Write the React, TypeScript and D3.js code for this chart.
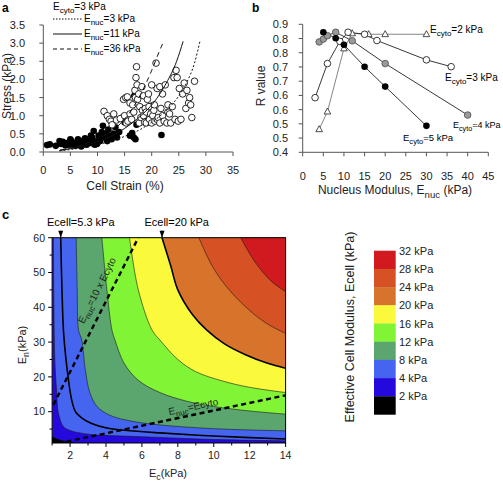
import React from 'react';
import * as d3 from 'd3';

const FONT = "'Liberation Sans', Arial, Helvetica, sans-serif";

// ---------------- Panel a data ----------------
const strainTicks = [0, 5, 10, 15, 20, 25, 30, 35];
const stressTicks = [0, 0.5, 1, 1.5, 2, 2.5, 3, 3.5];
const stressTickLabels = ['0.0', '0.5', '1.0', '1.5', '2.0', '2.5', '3.0', '3.5'];

const filledCells: [number, number][] = [
  [0.7, 0.19], [1.2, 0.21], [2.3, 0.17], [3.0, 0.3], [3.3, 0.22], [3.6, 0.28], [4.1, 0.18], [4.4, 0.25],
  [4.8, 0.2], [5.0, 0.35], [5.2, 0.3], [5.5, 0.22], [5.9, 0.17], [6.2, 0.26], [6.4, 0.35], [6.8, 0.2],
  [7.0, 0.15], [7.1, 0.3], [7.4, 0.24], [7.7, 0.38], [8.0, 0.2], [8.3, 0.3], [8.6, 0.25], [8.8, 0.45],
  [9.0, 0.4], [9.3, 0.58], [9.5, 0.2], [9.6, 0.3], [9.9, 0.22], [10.2, 0.45], [10.5, 0.3], [10.8, 0.55],
  [11.0, 0.72], [11.2, 0.4], [11.5, 0.5], [11.8, 0.3], [12.0, 0.62], [12.3, 0.45], [12.6, 0.35], [13.0, 0.5],
  [13.3, 0.68], [13.6, 0.4], [14.0, 0.55], [14.6, 0.95], [15.0, 0.82], [16.0, 0.45], [16.4, 0.52],
  [16.7, 0.4], [17.0, 0.35], [16.8, 1.55], [17.2, 0.75], [18.5, 0.9], [20.1, 1.28], [21.8, 0.47]
];

const openCells: [number, number][] = [
  [11.2, 1.12], [11.8, 1.0], [12.2, 0.9], [12.5, 0.85], [12.7, 0.75], [13.0, 1.05], [13.5, 0.88], [14.2, 0.92],
  [14.8, 1.45], [15.2, 1.5], [15.5, 1.52], [15.0, 1.0], [15.3, 0.8], [15.6, 0.85], [16.0, 1.05], [16.0, 1.35],
  [16.3, 0.9], [16.5, 1.3], [16.7, 1.1], [16.9, 1.7], [17.0, 1.5], [17.1, 2.05], [17.2, 2.35], [17.3, 1.85],
  [17.4, 1.45], [17.6, 1.6], [17.7, 0.8], [17.8, 1.25], [18.0, 0.95], [18.2, 1.8], [18.3, 1.15], [18.5, 1.0],
  [18.5, 1.55], [18.7, 0.82], [18.8, 1.2], [19.0, 1.1], [19.0, 0.8], [19.2, 1.45], [19.4, 1.6], [19.5, 1.25],
  [19.6, 0.9], [19.8, 1.05], [20.0, 1.85], [20.0, 0.8], [20.2, 1.0], [20.4, 1.15], [20.5, 1.3], [20.6, 0.85],
  [20.8, 2.45], [21.0, 1.75], [21.0, 0.9], [21.2, 0.95], [21.5, 1.8], [21.5, 0.8], [21.7, 1.2], [22.0, 1.0],
  [22.0, 1.6], [22.3, 0.85], [22.5, 1.85], [22.8, 0.8], [23.0, 1.1], [23.0, 1.3], [23.3, 1.05], [23.5, 0.8],
  [23.8, 1.25], [24.1, 2.05], [24.3, 0.9], [24.5, 2.25], [24.7, 2.05], [24.9, 0.85], [25.1, 1.75], [25.4, 0.9],
  [25.7, 1.6], [26.0, 1.9], [26.3, 1.2], [26.5, 1.7], [26.8, 1.35], [27.0, 1.5], [27.2, 1.3], [27.4, 0.95],
  [27.9, 1.95]
];

const modelEnuc3: [number, number][] = [
  [3, 0.03], [6, 0.09], [9, 0.17], [12, 0.28], [15, 0.43], [18, 0.63], [20, 0.82], [22, 1.05],
  [24, 1.35], [26.4, 1.9], [27.9, 2.45], [28.9, 3.05]
];
const modelEnuc11: [number, number][] = [
  [3, 0.04], [6, 0.12], [9, 0.24], [12, 0.4], [15, 0.65], [18, 1.0], [20.3, 1.35], [22.7, 1.9],
  [24.6, 2.5], [25.8, 3.05]
];
const modelEnuc36: [number, number][] = [
  [3, 0.05], [6, 0.15], [9, 0.3], [12, 0.52], [14, 0.75], [16, 1.1], [18, 1.6], [20, 2.25],
  [21.2, 2.7], [22.2, 3.05]
];

// ---------------- Panel b data ----------------
const enucTicks = [0, 5, 10, 15, 20, 25, 30, 35, 40, 45];
const rTicks = [0.45, 0.5, 0.55, 0.6, 0.65, 0.7, 0.75, 0.8, 0.85, 0.9];
const rTickLabels = ['0.4', '0.5', '0.5', '0.6', '0.6', '0.7', '0.7', '0.8', '0.8', '0.9'];

const cyto2: [number, number][] = [[4, 0.531], [6, 0.593], [10, 0.815], [12, 0.868], [16, 0.865], [20, 0.865], [30, 0.865]];
const cyto3: [number, number][] = [[3, 0.642], [6, 0.762], [9, 0.84], [11, 0.872], [15, 0.865], [18, 0.843], [30, 0.775], [36, 0.751]];
const cyto4: [number, number][] = [[4, 0.838], [5, 0.848], [6, 0.86], [8, 0.872], [12, 0.842], [20, 0.762], [40, 0.581]];
const cyto5: [number, number][] = [[5, 0.872], [8, 0.851], [10, 0.828], [15, 0.751], [20, 0.681], [30, 0.543]];

// ---------------- Panel c data ----------------
const ecTicks = [2, 4, 6, 8, 10, 12, 14];
const ecMinorTicks = [1, 3, 5, 7, 9, 11, 13];
const enTicks = [10, 20, 30, 40, 50, 60];
const enMinorTicks = [5, 15, 25, 35, 45, 55];

const contour2: [number, number][] = [[1, 2.8], [1.2, 2.3], [1.5, 1.8], [1.8, 1.4], [2.2, 1.0]];
const contour4: [number, number][] = [[1.07, 60], [1.1, 40], [1.15, 25], [1.25, 16], [1.35, 9.6], [1.63, 5.7], [2.0, 4.6], [2.55, 3.9], [3.5, 3.3], [4.95, 3.0], [7, 2.6], [10, 2.0], [14, 1.6]];
const contour5p3: [number, number][] = [[1.48, 60], [1.55, 45], [1.65, 32], [1.9, 19.6], [2.09, 13.4], [2.3, 10], [2.7, 8], [3.2, 6.6], [4.05, 5.3], [5.9, 4.3], [7, 3.9], [10, 3.0], [14, 2.15]];
const contour8: [number, number][] = [[2.34, 60], [2.4, 45], [2.47, 33.5], [2.65, 30.6], [2.85, 22], [3.1, 15.5], [3.5, 11.5], [4.2, 9], [5.5, 7.2], [7, 6.2], [9, 5.4], [11, 4.9], [14, 4.5]];
const contour12: [number, number][] = [[3.77, 60], [4.05, 45], [4.33, 33.5], [4.5, 30.6], [5.0, 24], [5.8, 19], [7, 15.5], [8.5, 13], [10, 11.5], [12, 10.2], [14, 9.3]];
const contour16: [number, number][] = [[5.31, 60], [5.8, 45], [6.56, 33.5], [7.0, 30.6], [8, 25], [9, 21.5], [10.5, 18.8], [12, 17], [14, 15.5]];
const contour20: [number, number][] = [[7.12, 60], [7.6, 52], [8.0, 45], [8.8, 38], [9.6, 33.5], [10.6, 29.5], [11.8, 26.3], [13, 23.9], [14, 22.5]];
const contour24: [number, number][] = [[9.17, 60], [9.9, 52], [10.7, 46], [11.8, 40], [12.9, 35.5], [14, 32.5]];
const contour28: [number, number][] = [[11.5, 60], [12.3, 53], [13.2, 47.5], [14, 44.5]];

const tenfoldLine: [number, number][] = [[1.07, 12.0], [5.8, 60]];
const equalLine: [number, number][] = [[1.8, 1.4], [14, 14.7]];

const legendLabels = ['32 kPa', '28 kPa', '24 kPa', '20 kPa', '16 kPa', '12 kPa', '8 kPa', '4 kPa', '2 kPa'];
const legendColors = ['#d11a1f', '#d65225', '#d8732b', '#fbf93c', '#80f435', '#5ba56e', '#4565f1', '#2408dc', '#000000'];

const C_DARKBLUE = '#2408dc';
const C_BLUE = '#4565f1';
const C_MINT = '#5ba56e';
const C_GREEN = '#80f435';
const C_YELLOW = '#fbf93c';
const C_ORANGE = '#d8732b';
const C_DORANGE = '#d65225';
const C_RED = '#d11a1f';

function SubText(props: {
  x: number; y: number; base: string; sub: string; rest: string; size: number;
  anchor?: string; transform?: string; fill?: string;
}) {
  const { x, y, base, sub, rest, size, anchor = 'start', transform, fill = '#000' } = props;
  const d = size * 0.3;
  return (
    <text x={x} y={y} fontSize={size} textAnchor={anchor} transform={transform} fill={fill}>
      {base}
      <tspan fontSize={size * 0.8} dy={d}>{sub}</tspan>
      <tspan dy={-d}>{rest}</tspan>
    </text>
  );
}

const AX = '#555';

function PanelA() {
  const xA = d3.scaleLinear().domain([0, 35]).range([43.3, 233]);
  const yA = d3.scaleLinear().domain([0, 3.5]).range([152, 25]);
  const line = d3.line<[number, number]>().x(d => xA(d[0])).y(d => yA(d[1])).curve(d3.curveMonotoneX);
  return (
    <g>
      <text x={2} y={12} fontSize={12} fontWeight="bold">a</text>
      <line x1={xA(0)} x2={xA(35)} y1={yA(0)} y2={yA(0)} stroke={AX} strokeWidth={1} />
      <line x1={xA(0)} x2={xA(0)} y1={yA(0)} y2={yA(3.5)} stroke={AX} strokeWidth={1} />
      {stressTicks.map((t, i) => (
        <g key={'ys' + i}>
          <line x1={xA(0) - 4} x2={xA(0)} y1={yA(t)} y2={yA(t)} stroke={AX} />
          <text x={25} y={yA(t) + 4} fontSize={11} textAnchor="end" fill="#222">{stressTickLabels[i]}</text>
        </g>
      ))}
      {strainTicks.map((t, i) => (
        <g key={'xs' + i}>
          <line x1={xA(t)} x2={xA(t)} y1={yA(0)} y2={yA(0) + 4} stroke={AX} />
          <text x={xA(t)} y={174} fontSize={11} textAnchor="middle" fill="#222">{t}</text>
        </g>
      ))}
      <text x={125} y={190} fontSize={12} textAnchor="middle" fill="#222">Cell Strain (%)</text>
      <text transform="translate(11,86) rotate(-90)" fontSize={12} textAnchor="middle" fill="#222">Stress (kPa)</text>
      {filledCells.map((d, i) => (
        <circle key={'f' + i} cx={xA(d[0])} cy={yA(d[1])} r={3.3} fill="#000" />
      ))}
      {openCells.map((d, i) => (
        <circle key={'o' + i} cx={xA(d[0])} cy={yA(d[1])} r={3.3} fill="#fff" stroke="#111" strokeWidth={0.9} />
      ))}
      <path d={line(modelEnuc3) || ''} fill="none" stroke="#111" strokeWidth={1} strokeDasharray="2,2" />
      <path d={line(modelEnuc11) || ''} fill="none" stroke="#111" strokeWidth={1} />
      <path d={line(modelEnuc36) || ''} fill="none" stroke="#111" strokeWidth={1} strokeDasharray="5,4" />
      <SubText x={53} y={10} base="E" sub="cyto" rest="=3 kPa" size={10} />
      <line x1={53} x2={82} y1={19} y2={19} stroke="#111" strokeDasharray="1.5,1.5" />
      <SubText x={84} y={22} base="E" sub="nuc" rest="=3 kPa" size={10} />
      <line x1={53} x2={82} y1={34} y2={34} stroke="#111" />
      <SubText x={84} y={37} base="E" sub="nuc" rest="=11 kPa" size={10} />
      <line x1={53} x2={82} y1={49} y2={49} stroke="#111" strokeDasharray="4,3" />
      <SubText x={84} y={52} base="E" sub="nuc" rest="=36 kPa" size={10} />
    </g>
  );
}

function PanelB() {
  const xB = d3.scaleLinear().domain([0, 45]).range([302.7, 488.3]);
  const yB = d3.scaleLinear().domain([0.45, 0.9]).range([152.3, 24.3]);
  const line = d3.line<[number, number]>().x(d => xB(d[0])).y(d => yB(d[1]));
  const tri = (x: number, y: number) => `M${x},${y - 3.6}L${x + 3.3},${y + 2.4}L${x - 3.3},${y + 2.4}Z`;
  return (
    <g>
      <text x={252} y={12} fontSize={12} fontWeight="bold">b</text>
      <line x1={xB(0)} x2={xB(45)} y1={yB(0.45)} y2={yB(0.45)} stroke={AX} />
      <line x1={xB(0)} x2={xB(0)} y1={yB(0.45)} y2={yB(0.9)} stroke={AX} />
      {rTicks.map((t, i) => (
        <g key={'yr' + i}>
          <line x1={xB(0) - 4} x2={xB(0)} y1={yB(t)} y2={yB(t)} stroke={AX} />
          <text x={288} y={yB(t) + 4} fontSize={11} textAnchor="end" fill="#222">{rTickLabels[i]}</text>
        </g>
      ))}
      {enucTicks.map((t, i) => (
        <g key={'xr' + i}>
          <line x1={xB(t)} x2={xB(t)} y1={yB(0.45)} y2={yB(0.45) + 4} stroke={AX} />
          <text x={xB(t)} y={180} fontSize={11} textAnchor="middle" fill="#222">{t}</text>
        </g>
      ))}
      <SubText x={395} y={194} base="Nucleus Modulus, E" sub="nuc" rest=" (kPa)" size={12} anchor="middle" fill="#222" />
      <text transform="translate(265,86) rotate(-90)" fontSize={12} textAnchor="middle" fill="#222">R value</text>
      {[cyto2, cyto3, cyto4, cyto5].map((s, i) => (
        <path key={'l' + i} d={line(s) || ''} fill="none" stroke={i === 0 ? '#777' : '#222'} strokeWidth={0.9} />
      ))}
      {cyto2.map((d, i) => (
        <path key={'t' + i} d={tri(xB(d[0]), yB(d[1]))} fill="#fff" stroke="#222" strokeWidth={0.8} />
      ))}
      {cyto3.map((d, i) => (
        <circle key={'c3' + i} cx={xB(d[0])} cy={yB(d[1])} r={3.3} fill="#fff" stroke="#222" strokeWidth={0.9} />
      ))}
      {cyto4.map((d, i) => (
        <circle key={'c4' + i} cx={xB(d[0])} cy={yB(d[1])} r={3.3} fill="#9a9a9a" stroke="#555" strokeWidth={0.9} />
      ))}
      {cyto5.map((d, i) => (
        <circle key={'c5' + i} cx={xB(d[0])} cy={yB(d[1])} r={3.3} fill="#000" />
      ))}
      <SubText x={430} y={32.5} base="E" sub="cyto" rest="=2 kPa" size={10} />
      <SubText x={445} y={80.5} base="E" sub="cyto" rest="=3 kPa" size={10} />
      <SubText x={453} y={128} base="E" sub="cyto" rest="=4 kPa" size={9} />
      <SubText x={403} y={141} base="E" sub="cyto" rest="=5 kPa" size={9.5} />
    </g>
  );
}

function PanelC() {
  const xC = d3.scaleLinear().domain([1, 14]).range([52.1, 285.6]);
  const yC = d3.scaleLinear().domain([1, 60]).range([443, 237.7]);
  const line = d3.line<[number, number]>().x(d => xC(d[0])).y(d => yC(d[1])).curve(d3.curveCatmullRom.alpha(0.5));
  const straight = d3.line<[number, number]>().x(d => xC(d[0])).y(d => yC(d[1]));
  const region = (pts: [number, number][], corner: [number, number]) =>
    (line(pts) || '') + `L${xC(corner[0])},${yC(corner[1])}Z`;
  const tr: [number, number] = [14.6, 61];
  const regions: { pts: [number, number][]; color: string }[] = [
    { pts: contour4, color: C_BLUE },
    { pts: contour8, color: C_MINT },
    { pts: contour12, color: C_GREEN },
    { pts: contour16, color: C_YELLOW },
    { pts: contour20, color: C_ORANGE },
    { pts: contour24, color: C_DORANGE },
    { pts: contour28, color: C_RED },
  ];
  const left = xC(1), right = xC(14), top = yC(60), bottom = yC(1);
  const p1 = tenfoldLine.map(d => [xC(d[0]), yC(d[1])]);
  const ang10 = (Math.atan2(p1[1][1] - p1[0][1], p1[1][0] - p1[0][0]) * 180) / Math.PI;
  const p2 = equalLine.map(d => [xC(d[0]), yC(d[1])]);
  const ang1 = (Math.atan2(p2[1][1] - p2[0][1], p2[1][0] - p2[0][0]) * 180) / Math.PI;
  const markers: { v: number; label: string; cx: number }[] = [
    { v: contour5p3[0][0], label: '5.3 kPa', cx: 80.8 },
    { v: contour20[0][0], label: '20 kPa', cx: 176.7 },
  ];
  return (
    <g>
      <text x={2} y={218.5} fontSize={13} fontWeight="bold">c</text>
      <defs>
        <clipPath id="clipC">
          <rect x={left} y={top} width={right - left} height={bottom - top} />
        </clipPath>
      </defs>
      <g clipPath="url(#clipC)">
        <rect x={left} y={top} width={right - left} height={bottom - top} fill={C_DARKBLUE} />
        <path d={region(contour2, [0.5, 0.5])} fill="#000" />
        {regions.map((r, i) => (
          <path key={'r' + i} d={region(r.pts, tr)} fill={r.color} />
        ))}
        {[contour4, contour8, contour12, contour16, contour24, contour28].map((c, i) => (
          <path key={'cl' + i} d={line(c) || ''} fill="none" stroke="#1a1a1a" strokeWidth={0.6} />
        ))}
        <path d={line(contour2) || ''} fill="none" stroke="#111" strokeWidth={0.6} />
        <path d={line(contour5p3) || ''} fill="none" stroke="#000" strokeWidth={1.6} />
        <path d={line(contour20) || ''} fill="none" stroke="#000" strokeWidth={1.6} />
        <path d={straight(tenfoldLine) || ''} fill="none" stroke="#000" strokeWidth={2.4} strokeDasharray="5,3.5" />
        <path d={straight(equalLine) || ''} fill="none" stroke="#000" strokeWidth={2.4} strokeDasharray="5,3.5" />
      </g>
      <rect x={left} y={top} width={right - left} height={bottom - top} fill="none" stroke="#000" strokeWidth={1} />
      <SubText x={0} y={0} base="E" sub="nuc" rest="=10 x Ecyto" size={10} anchor="middle" fill="#1b2a1b"
        transform={`translate(100,292) rotate(${ang10})`} />
      <SubText x={0} y={0} base="E" sub="nuc" rest="=Ecyto" size={10} anchor="middle" fill="#1b2a1b"
        transform={`translate(194,410) rotate(${ang1})`} />
      {ecTicks.map((t, i) => (
        <g key={'xc' + i}>
          <line x1={xC(t)} x2={xC(t)} y1={bottom} y2={bottom + 4} stroke="#000" />
          <text x={xC(t)} y={459} fontSize={10.5} textAnchor="middle" fill="#222">{t}</text>
        </g>
      ))}
      {ecMinorTicks.map((t, i) => (
        <line key={'xm' + i} x1={xC(t)} x2={xC(t)} y1={bottom} y2={bottom + 2.5} stroke="#000" />
      ))}
      {enTicks.map((t, i) => (
        <g key={'yc' + i}>
          <line x1={left - 4} x2={left} y1={yC(t)} y2={yC(t)} stroke="#000" />
          <text x={45} y={yC(t) + 3.8} fontSize={10.5} textAnchor="end" fill="#222">{t}</text>
        </g>
      ))}
      {enMinorTicks.map((t, i) => (
        <line key={'ym' + i} x1={left - 2.5} x2={left} y1={yC(t)} y2={yC(t)} stroke="#000" />
      ))}
      <SubText x={168} y={477} base="E" sub="c" rest="(kPa)" size={11} anchor="middle" fill="#222" />
      <SubText x={0} y={0} base="E" sub="n" rest="(kPa)" size={11} anchor="middle" fill="#222"
        transform="translate(26,345) rotate(-90)" />
      {markers.map((m, i) => (
        <g key={'mk' + i}>
          <text x={m.cx} y={226} fontSize={11} textAnchor="middle">{'Ecell=' + m.label}</text>
          <path d={`M${xC(m.v) - 2.5},${top - 7}L${xC(m.v) + 2.5},${top - 7}L${xC(m.v)},${top}Z`} fill="#000" />
          <line x1={xC(m.v)} x2={xC(m.v)} y1={top - 7} y2={top} stroke="#000" />
        </g>
      ))}
      {legendColors.map((c, i) => (
        <rect key={'cb' + i} x={374} y={250.7 + i * 18.2} width={21.7} height={18.4} fill={c} />
      ))}
      {legendLabels.map((l, i) => (
        <text key={'cbl' + i} x={399} y={250.7 + i * 18.2 + 4} fontSize={11} fill="#222">{l}</text>
      ))}
      <text transform="translate(354,327) rotate(-90)" fontSize={12.5} textAnchor="middle" fill="#222">Effective Cell Modulus, Ecell  (kPa)</text>
    </g>
  );
}

export default function App() {
  return (
    <svg width={503} height={481} viewBox="0 0 503 481" fontFamily={FONT}
      style={{ position: 'absolute', left: 0, top: 0, background: '#fff' }}>
      <rect width={503} height={481} fill="#fff" />
      <PanelA />
      <PanelB />
      <PanelC />
    </svg>
  );
}
